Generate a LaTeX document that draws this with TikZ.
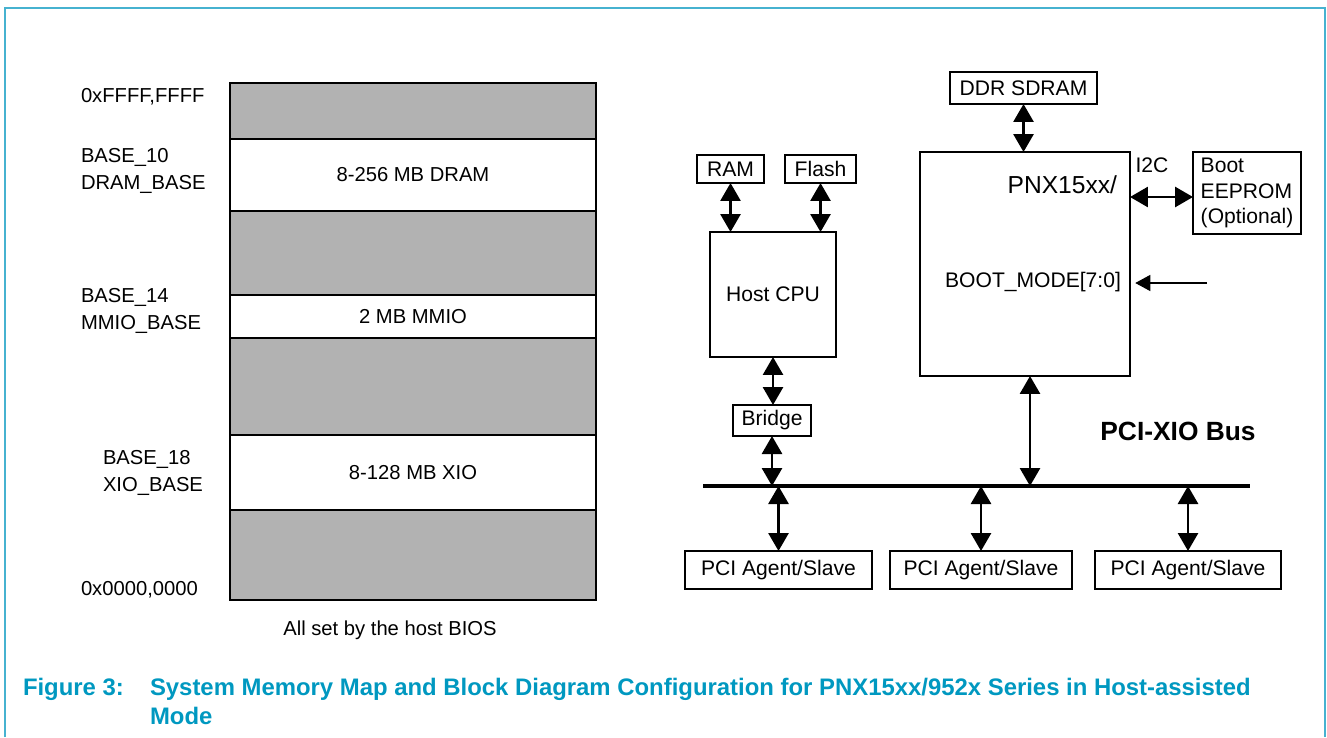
\documentclass[tikz,border=0pt]{standalone}
\usepackage{fontspec}
\setmainfont{Liberation Sans}
\usetikzlibrary{arrows.meta,positioning}
\definecolor{framecyan}{RGB}{70,178,208}
\definecolor{captioncyan}{RGB}{0,152,192}
\begin{document}
\begin{tikzpicture}[
  x=0.02cm,
  y=-0.02cm,
  every node/.style={font=\fontsize{12}{14.7}\selectfont, inner sep=0pt, outer sep=0pt},
  mapfont/.style={font=\fontsize{11.5}{15}\selectfont},
  freeseg/.style={draw, line width=0.8pt, fill=black!30, minimum width=7.32cm},
  usedseg/.style={draw, line width=0.8pt, fill=white, minimum width=7.32cm, mapfont},
  block/.style={draw, line width=0.7pt, fill=white},
  biarrow/.style={line width=1.6pt, {Triangle[length=0.36cm,width=0.4cm]}-{Triangle[length=0.36cm,width=0.4cm]}},
  inarrow/.style={line width=0.7pt, -{Triangle[length=0.3cm,width=0.32cm]}},
  capfont/.style={font=\fontsize{13.6}{16.4}\selectfont\bfseries, text=captioncyan}
]
  \useasboundingbox (0,0) rectangle (1327,737);

  % Frame, open at the bottom.
  \draw[framecyan, line width=1.1pt] (5,737) -- (5,8) -- (1325,8) -- (1325,737);

  % Memory map.
  \node[freeseg, minimum height=1.12cm] (segtop) at (413,111) {};
  \node[usedseg, minimum height=1.44cm, below=0pt of segtop] (dram) {8-256 MB DRAM};
  \node[freeseg, minimum height=1.68cm, below=0pt of dram] (seggap1) {};
  \node[usedseg, minimum height=0.86cm, below=0pt of seggap1] (mmio) {2 MB MMIO};
  \node[freeseg, minimum height=1.94cm, below=0pt of mmio] (seggap2) {};
  \node[usedseg, minimum height=1.50cm, below=0pt of seggap2] (xio) {8-128 MB XIO};
  \node[freeseg, minimum height=1.80cm, below=0pt of xio] (segbot) {};

  % Address labels.
  \node[mapfont, anchor=west] (addrtop) at (81,97) {0xFFFF,FFFF};
  \node[mapfont, anchor=west, align=left] (dramlbl) at (81,171) {BASE\_10\\DRAM\_BASE};
  \node[mapfont, anchor=west, align=left] (mmiolbl) at (81,311) {BASE\_14\\MMIO\_BASE};
  \node[mapfont, anchor=west, align=left] (xiolbl) at (103,473) {BASE\_18\\XIO\_BASE};
  \node[mapfont, anchor=west] (addrbot) at (81,590) {0x0000,0000};
  \node[mapfont] (biosnote) at (390,630) {All set by the host BIOS};

  % Host side.
  \node[block, minimum width=1.34cm, minimum height=0.56cm] (ram) at (730.5,169) {RAM};
  \node[block, minimum width=1.42cm, minimum height=0.56cm] (flash) at (820.5,169) {Flash};
  \node[block, minimum width=2.52cm, minimum height=2.50cm] (cpu) at (773,294.5) {Host CPU};
  \node[block, minimum width=1.56cm, minimum height=0.62cm] (bridge) at (772,420.5) {Bridge};

  % PNX15xx side.
  \node[block, minimum width=2.94cm, minimum height=0.64cm] (ddr) at (1023.5,88) {DDR SDRAM};
  \node[block, minimum width=4.20cm, minimum height=4.48cm] (pnx) at (1025,264) {};
  \node[font=\fontsize{14}{16}\selectfont, anchor=base east] (pnxname) at (1117,193) {PNX15xx/};
  \node (bootmode) at (1033,282) {BOOT\_MODE[7:0]};
  \node[block, minimum width=2.16cm, minimum height=1.64cm, align=left] (eeprom) at (1247,193) {Boot\\EEPROM\\(Optional)};
  \node (i2c) at (1152,165) {I2C};
  \coordinate (i2cpath) at (1160,197);
  \coordinate (bootin) at (1207,283);

  % Bus and agents.
  \coordinate (busL) at (703,486);
  \coordinate (busR) at (1250,486);
  \node[font=\fontsize{15}{17}\selectfont\bfseries] (buslbl) at (1178,431) {PCI-XIO Bus};
  \node[block, minimum width=3.74cm, minimum height=0.76cm] (pci1) at (778.5,570) {PCI Agent/Slave};
  \node[block, minimum width=3.64cm, minimum height=0.76cm] (pci2) at (981,570) {PCI Agent/Slave};
  \node[block, minimum width=3.72cm, minimum height=0.76cm] (pci3) at (1188,570) {PCI Agent/Slave};

  % Connectors.
  \draw[line width=2pt] (busL) -- (busR);
  \draw[biarrow] (ram.south) -- (ram.south |- cpu.north);
  \draw[biarrow] (flash.south) -- (flash.south |- cpu.north);
  \draw[biarrow] (cpu.south) -- (cpu.south |- bridge.north);
  \draw[biarrow] (bridge.south) -- (bridge.south |- busL);
  \draw[biarrow] (ddr.south) -- (ddr.south |- pnx.north);
  \draw[biarrow] ([xshift=0.1cm]pnx.south) -- ([xshift=0.1cm]pnx.south |- busL);
  \draw[biarrow] (pnx.east |- i2cpath) -- (eeprom.west |- i2cpath);
  \draw[inarrow, shorten >=3pt] (bootin) -- (pnx.east |- bootin);
  \foreach \agent in {pci1,pci2,pci3}
    \draw[biarrow] (\agent.north) -- (\agent.north |- busL);

  % Caption.
  \node[capfont, anchor=base west] (figno) at (23,695) {Figure 3:};
  \node[capfont, anchor=base west, align=left] (figtitle) at (150,724) {System Memory Map and Block Diagram Configuration for PNX15xx/952x Series in Host-assisted\\Mode};
\end{tikzpicture}
\end{document}
